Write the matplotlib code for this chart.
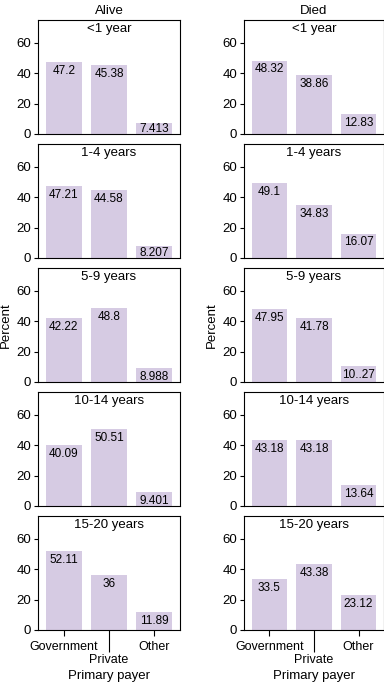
import matplotlib
matplotlib.use('Agg')
import matplotlib.pyplot as plt

payers = ['Government', 'Private', 'Other']
ages = ['<1 year', '1-4 years', '5-9 years', '10-14 years', '15-20 years']

alive = [[47.2, 45.38, 7.413],
         [47.21, 44.58, 8.207],
         [42.22, 48.8, 8.988],
         [40.09, 50.51, 9.401],
         [52.11, 36, 11.89]]
alive_labels = [['47.2', '45.38', '7.413'],
                ['47.21', '44.58', '8.207'],
                ['42.22', '48.8', '8.988'],
                ['40.09', '50.51', '9.401'],
                ['52.11', '36', '11.89']]

died = [[48.32, 38.86, 12.83],
        [49.1, 34.83, 16.07],
        [47.95, 41.78, 10.27],
        [43.18, 43.18, 13.64],
        [33.5, 43.38, 23.12]]
died_labels = [['48.32', '38.86', '12.83'],
               ['49.1', '34.83', '16.07'],
               ['47.95', '41.78', '10..27'],
               ['43.18', '43.18', '13.64'],
               ['33.5', '43.38', '23.12']]

plt.rcParams['font.family'] = ['Liberation Sans', 'DejaVu Sans']
bar_color = '#d6cbe3'

W, H = 384, 682
fig = plt.figure(figsize=(W / 100, H / 100), dpi=100)

cols = [('Alive', alive, alive_labels, 38, 142), ('Died', died, died_labels, 244, 140)]

for title, data, labels, left_px, width_px in cols:
    for i, age in enumerate(ages):
        bottom_px = 134 + 124 * i
        ax = fig.add_axes([left_px / W, 1 - bottom_px / H, width_px / W, 114 / H])
        x = range(len(payers))
        ax.bar(x, data[i], width=0.8, color=bar_color)
        for xi, v, lab in zip(x, data[i], labels[i]):
            # label sits inside the bar, just under its top
            ax.text(xi, max(v - 5.8, 3.3), lab, ha='center', va='center', fontsize=8.5)
        ax.set_ylim(0, 75)
        ax.set_xlim(-0.57, 2.57)
        ax.set_yticks([0, 20, 40, 60])
        ax.tick_params(axis='y', labelsize=9.5, length=3, width=0.8, pad=2)
        ax.text(0.5, 0.975, age, transform=ax.transAxes, ha='center', va='top', fontsize=9.5)
        for s in ax.spines.values():
            s.set_linewidth(0.8)
        if i == 0:
            ax.set_title(title, fontsize=9.5, pad=4)
        if i == 2:
            ax.set_ylabel('Percent', fontsize=9.5, labelpad=3)
        if i == 4:
            ax.set_xticks([0, 2])
            ax.set_xticklabels([payers[0], payers[2]])
            ax.set_xticks([1], minor=True)
            ax.set_xticklabels([payers[1]], minor=True)
            ax.tick_params(axis='x', which='major', labelsize=9, length=4, width=0.8, pad=4)
            ax.tick_params(axis='x', which='minor', labelsize=9, length=16, width=0.8, pad=1)
            ax.set_xlabel('Primary payer', fontsize=9.5, labelpad=3)
        else:
            ax.set_xticks([])

plt.savefig('out.png', dpi=100)
